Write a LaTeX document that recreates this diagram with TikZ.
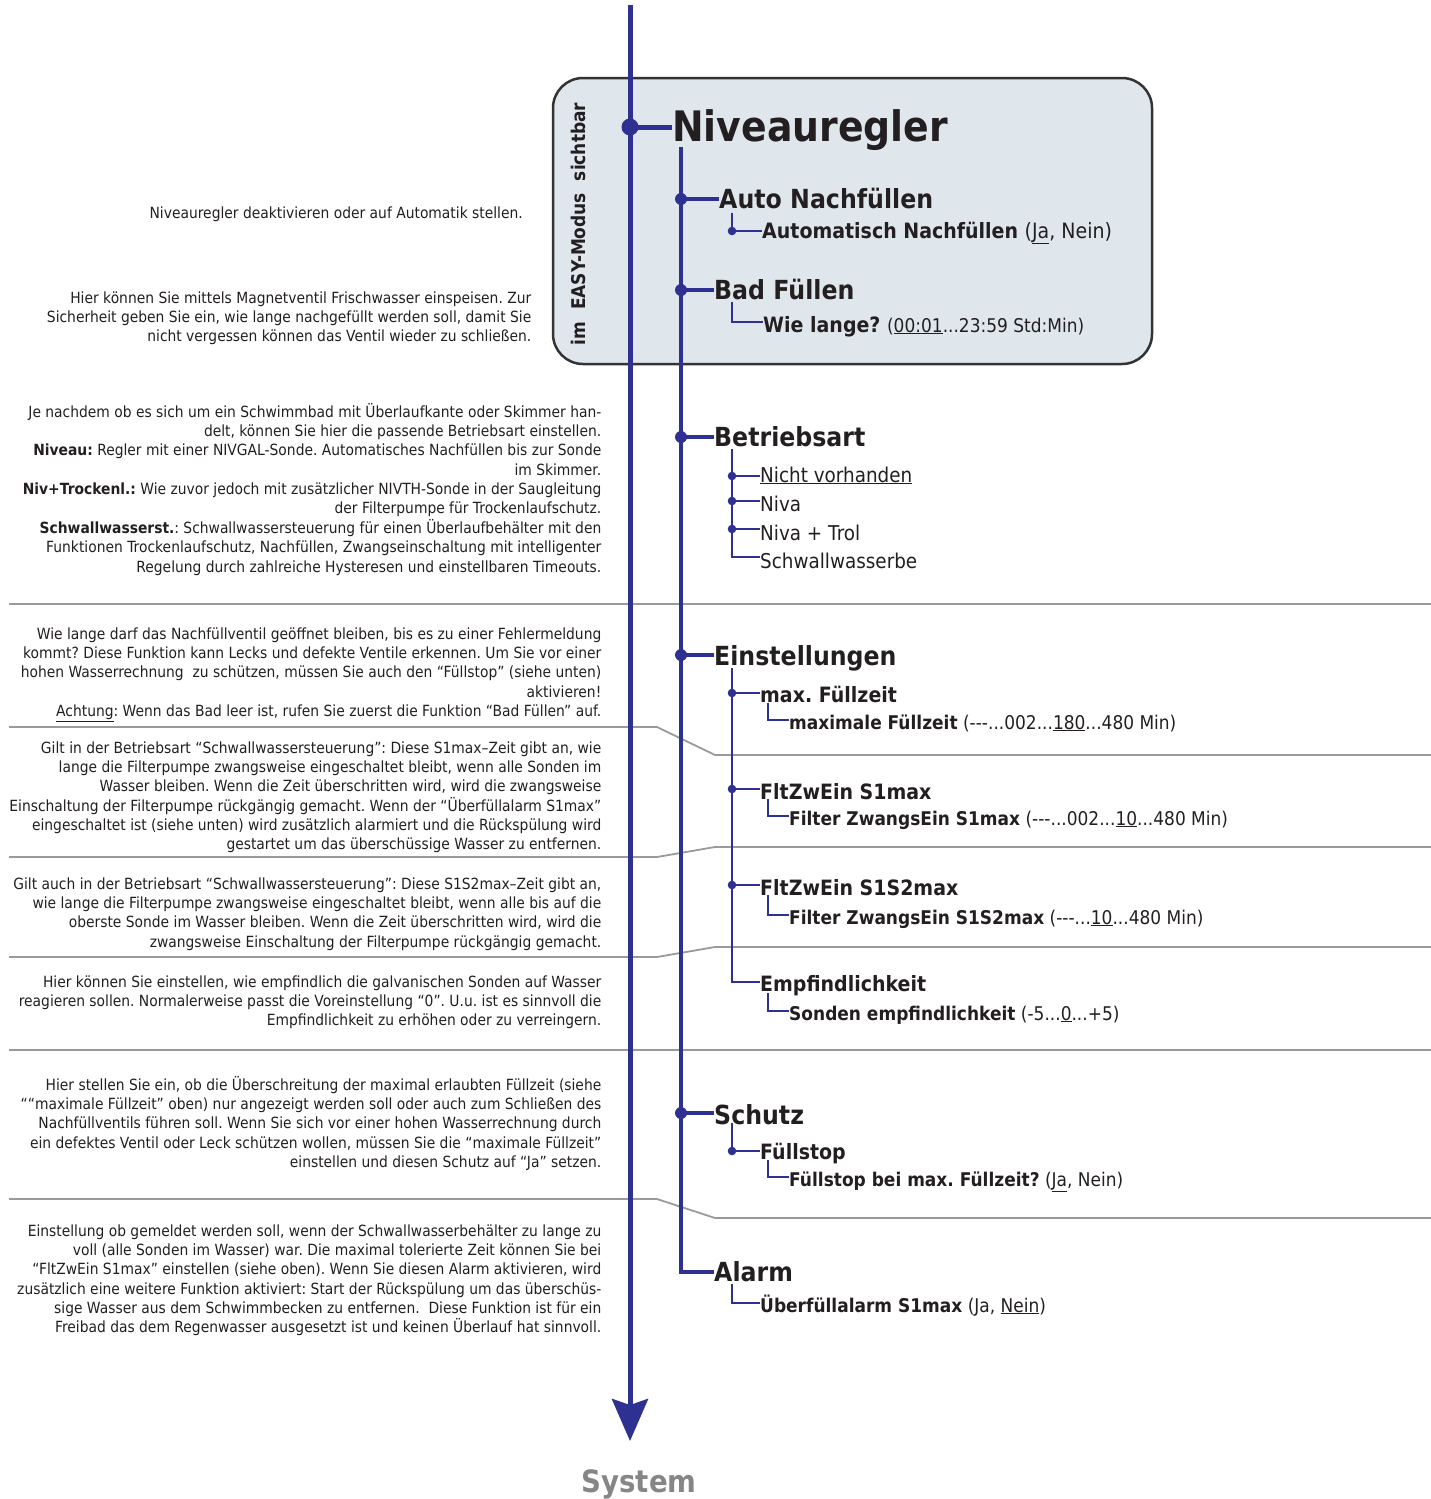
\documentclass[tikz,border=0pt]{standalone}
\usepackage{fontspec}
\setmainfont{DejaVu Sans}[FakeStretch=0.9]
\usetikzlibrary{arrows.meta}
\definecolor{nblue}{HTML}{2E3192}
\definecolor{boxfill}{HTML}{DFE7ED}
\definecolor{boxline}{HTML}{333333}
\definecolor{sepc}{HTML}{9A9A9A}
\definecolor{txtc}{HTML}{231F20}
\definecolor{sysc}{HTML}{868686}
\frenchspacing
\begin{document}
\begin{tikzpicture}[x=1pt,y=-1pt,
  l1/.style={nblue, line width=5pt},
  l2/.style={nblue, line width=3.3pt},
  l3/.style={nblue, line width=2.2pt},
  l4/.style={nblue, line width=1.3pt},
  sep/.style={sepc, line width=1.8pt},
  lefttxt/.style={font=\fontsize{15.4pt}{19.35pt}\selectfont, align=right, anchor=north east, inner sep=0pt, text=txtc},
  tx/.style={anchor=base west, inner sep=0pt, text=txtc},
  h0/.style={tx, font=\fontsize{42pt}{44pt}\selectfont\bfseries},
  h1/.style={tx, font=\fontsize{26.3pt}{28pt}\selectfont\bfseries},
  h2/.style={tx, font=\fontsize{21.1pt}{24pt}\selectfont\bfseries},
  opt/.style={tx, font=\fontsize{20.4pt}{24pt}\selectfont},
  h3/.style={tx, font=\fontsize{18.9pt}{22pt}\selectfont},
]
\useasboundingbox (0,0) rectangle (1431,1499);

% separators
\draw[sep] (9,604) -- (1431,604);
\draw[sep] (9,727) -- (657,727) -- (715,755) -- (1431,755);
\draw[sep] (9,857) -- (657,857) -- (715,847) -- (1431,847);
\draw[sep] (9,957) -- (657,957) -- (715,947) -- (1431,947);
\draw[sep] (9,1050) -- (1431,1050);
\draw[sep] (9,1199) -- (657,1199) -- (715,1218) -- (1431,1218);

% box
\draw[boxline, fill=boxfill, line width=2.5pt, rounded corners=30pt] (553,78) rectangle (1152,364);
\node[rotate=90, anchor=base, inner sep=0pt, text=txtc, font=\fontsize{18.9pt}{22pt}\selectfont\bfseries] (easy) at (585,224) {im\ \ EASY-Modus\ \ sichtbar};

% main axis
\coordinate (top) at (630,5);
\coordinate (tip) at (630,1441);
\draw[l1, -{Stealth[length=42pt,width=36pt,inset=6pt]}] (top) -- (tip);
\node[anchor=base, inner sep=0pt, text=sysc, font=\fontsize{30.7pt}{32pt}\selectfont\bfseries] (sys) at (639,1492) {System};

% level 0
\node[h0] (niv) at (672,141.5) {Niveauregler};
\coordinate (dNiv) at (630,127);
\draw[l1] (dNiv) -- (dNiv -| niv.west);
\fill[nblue] (dNiv) circle (8.5pt);

% level 1 texts
\node[h1] (tAuto) at (719,208) {Auto Nachfüllen};
\node[h1] (tBad) at (714,299.5) {Bad Füllen};
\node[h1] (tBetr) at (714,446) {Betriebsart};
\node[h1] (tEin) at (714,665) {Einstellungen};
\node[h1] (tSchutz) at (714,1124) {Schutz};
\node[h1] (tAlarm) at (714,1281) {Alarm};

\coordinate (v2a) at (681,147);
\coordinate (v2b) at (681,1272);
\draw[l2] (v2a) -- (v2b) -- (v2b -| tAlarm.west);
\foreach \n/\yy in {Auto/199, Bad/290, Betr/437, Ein/655, Schutz/1113}{
  \coordinate (d\n) at (681,\yy);
  \draw[l2] (d\n) -- (d\n -| t\n.west);
  \fill[nblue] (d\n) circle (6pt);
}

% Auto Nachfuellen
\node[h2] (tAutoN) at (762,238) {Automatisch Nachfüllen \mdseries(\underline{Ja}, Nein)};
\coordinate (aA) at (732,213);
\coordinate (dAutoN) at (732,231);
\draw[l3] (aA) -- (dAutoN) -- (dAutoN -| tAutoN.west);
\fill[nblue] (dAutoN) circle (4.3pt);

% Bad Fuellen
\node[h2] (tWie) at (763,332) {Wie lange? {\mdseries\fontsize{18.9pt}{22pt}\selectfont(\underline{00:01}...23:59 Std:Min)}};
\coordinate (bA) at (732,302);
\coordinate (bB) at (732,322);
\draw[l3] (bA) -- (bB) -- (bB -| tWie.west);

% Betriebsart
\node[opt] (o1) at (760,482) {\underline{Nicht vorhanden}};
\node[opt] (o2) at (760,511.5) {Niva};
\node[opt] (o3) at (760,540) {Niva + Trol};
\node[opt] (o4) at (760,568) {Schwallwasserbe};
\coordinate (btA) at (732,449);
\coordinate (btB) at (732,557);
\draw[l3] (btA) -- (btB) -- (btB -| o4.west);
\foreach \n/\yy in {o1/476, o2/501, o3/529}{
  \coordinate (d\n) at (732,\yy);
  \draw[l3] (d\n) -- (d\n -| \n.west);
  \fill[nblue] (d\n) circle (4.3pt);
}

% Einstellungen
\node[h2] (e1) at (760,702) {max. Füllzeit};
\node[h2] (e2) at (760,799) {FltZwEin S1max};
\node[h2] (e3) at (760,895) {FltZwEin S1S2max};
\node[h2] (e4) at (760,991) {Empfindlichkeit};
\coordinate (eA) at (732,668);
\coordinate (eB) at (732,982);
\draw[l3] (eA) -- (eB) -- (eB -| e4.west);
\foreach \n/\yy in {e1/693, e2/789, e3/885}{
  \coordinate (d\n) at (732,\yy);
  \draw[l3] (d\n) -- (d\n -| \n.west);
  \fill[nblue] (d\n) circle (4.3pt);
}
\node[h3] (f1) at (789,729) {\textbf{maximale Füllzeit} (-{}-{}-...002...\underline{180}...480 Min)};
\node[h3] (f2) at (789,825) {\textbf{Filter ZwangsEin S1max} (-{}-{}-...002...\underline{10}...480 Min)};
\node[h3] (f3) at (789,924) {\textbf{Filter ZwangsEin S1S2max} (-{}-{}-...\underline{10}...480 Min)};
\node[h3] (f4) at (789,1020) {\textbf{Sonden empfindlichkeit} (-5...\underline{0}...+5)};
\foreach \n/\ya/\yb in {f1/703/720, f2/799/816, f3/895/915, f4/993/1011}{
  \coordinate (\n a) at (768,\ya);
  \coordinate (\n b) at (768,\yb);
  \draw[l4] (\n a) -- (\n b) -- (\n b -| \n.west);
}

% Schutz
\node[h2] (s1) at (760,1159) {Füllstop};
\coordinate (sA) at (732,1123);
\coordinate (ds1) at (732,1151);
\draw[l3] (sA) -- (ds1) -- (ds1 -| s1.west);
\fill[nblue] (ds1) circle (4.3pt);
\node[h3] (s2) at (789,1186) {\textbf{Füllstop bei max. Füllzeit?} (\underline{Ja}, Nein)};
\coordinate (s2a) at (768,1160);
\coordinate (s2b) at (768,1177);
\draw[l4] (s2a) -- (s2b) -- (s2b -| s2.west);

% Alarm
\node[h3] (al1) at (760,1312) {\textbf{Überfüllalarm S1max} (Ja, \underline{Nein})};
\coordinate (alA) at (732,1284);
\coordinate (alB) at (732,1303);
\draw[l3] (alA) -- (alB) -- (alB -| al1.west);

% left texts (top = first baseline - 14.5)
\node[lefttxt] (L1) at (523,203.5) {\rule{0pt}{14.5pt}Niveauregler deaktivieren oder auf Automatik stellen.};
\node[lefttxt] (L2) at (531.5,288.5) {\rule{0pt}{14.5pt}Hier können Sie mittels Magnetventil Frischwasser einspeisen. Zur\\
Sicherheit geben Sie ein, wie lange nachgefüllt werden soll, damit Sie\\
nicht vergessen können das Ventil wieder zu schließen.};
\node[lefttxt] (L3) at (601.5,402.5) {\rule{0pt}{14.5pt}Je nachdem ob es sich um ein Schwimmbad mit Überlaufkante oder Skimmer han-\\
delt, können Sie hier die passende Betriebsart einstellen.\\
\textbf{Niveau:} Regler mit einer NIVGAL-Sonde. Automatisches Nachfüllen bis zur Sonde\\
im Skimmer.\\
\textbf{Niv+Trockenl.:} Wie zuvor jedoch mit zusätzlicher NIVTH-Sonde in der Saugleitung\\
der Filterpumpe für Trockenlaufschutz.\\
\textbf{Schwallwasserst.}: Schwallwassersteuerung für einen Überlaufbehälter mit den\\
Funktionen Trockenlaufschutz, Nachfüllen, Zwangseinschaltung mit intelligenter\\
Regelung durch zahlreiche Hysteresen und einstellbaren Timeouts.};
\node[lefttxt] (L4) at (601.5,624.5) {\rule{0pt}{14.5pt}Wie lange darf das Nachfüllventil geöffnet bleiben, bis es zu einer Fehlermeldung\\
kommt? Diese Funktion kann Lecks und defekte Ventile erkennen. Um Sie vor einer\\
hohen Wasserrechnung\ \ zu schützen, müssen Sie auch den “Füllstop” (siehe unten)\\
aktivieren!\\
\underline{Achtung}: Wenn das Bad leer ist, rufen Sie zuerst die Funktion “Bad Füllen” auf.};
\node[lefttxt] (L5) at (601.5,738.5) {\rule{0pt}{14.5pt}Gilt in der Betriebsart “Schwallwassersteuerung”: Diese S1max–Zeit gibt an, wie\\
lange die Filterpumpe zwangsweise eingeschaltet bleibt, wenn alle Sonden im\\
Wasser bleiben. Wenn die Zeit überschritten wird, wird die zwangsweise\\
Einschaltung der Filterpumpe rückgängig gemacht. Wenn der “Überfüllalarm S1max”\\
eingeschaltet ist (siehe unten) wird zusätzlich alarmiert und die Rückspülung wird\\
gestartet um das überschüssige Wasser zu entfernen.};
\node[lefttxt] (L6) at (601.5,874.5) {\rule{0pt}{14.5pt}Gilt auch in der Betriebsart “Schwallwassersteuerung”: Diese S1S2max–Zeit gibt an,\\
wie lange die Filterpumpe zwangsweise eingeschaltet bleibt, wenn alle bis auf die\\
oberste Sonde im Wasser bleiben. Wenn die Zeit überschritten wird, wird die\\
zwangsweise Einschaltung der Filterpumpe rückgängig gemacht.};
\node[lefttxt] (L7) at (601.5,972.5) {\rule{0pt}{14.5pt}Hier können Sie einstellen, wie empfindlich die galvanischen Sonden auf Wasser\\
reagieren sollen. Normalerweise passt die Voreinstellung “0”. U.u. ist es sinnvoll die\\
Empfindlichkeit zu erhöhen oder zu verreingern.};
\node[lefttxt] (L8) at (601.5,1075.5) {\rule{0pt}{14.5pt}Hier stellen Sie ein, ob die Überschreitung der maximal erlaubten Füllzeit (siehe\\
““maximale Füllzeit” oben) nur angezeigt werden soll oder auch zum Schließen des\\
Nachfüllventils führen soll. Wenn Sie sich vor einer hohen Wasserrechnung durch\\
ein defektes Ventil oder Leck schützen wollen, müssen Sie die “maximale Füllzeit”\\
einstellen und diesen Schutz auf “Ja” setzen.};
\node[lefttxt] (L9) at (601.5,1221.5) {\rule{0pt}{14.5pt}Einstellung ob gemeldet werden soll, wenn der Schwallwasserbehälter zu lange zu\\
voll (alle Sonden im Wasser) war. Die maximal tolerierte Zeit können Sie bei\\
“FltZwEin S1max” einstellen (siehe oben). Wenn Sie diesen Alarm aktivieren, wird\\
zusätzlich eine weitere Funktion aktiviert: Start der Rückspülung um das überschüs-\\
sige Wasser aus dem Schwimmbecken zu entfernen.\ \ Diese Funktion ist für ein\\
Freibad das dem Regenwasser ausgesetzt ist und keinen Überlauf hat sinnvoll.};
\end{tikzpicture}
\end{document}
